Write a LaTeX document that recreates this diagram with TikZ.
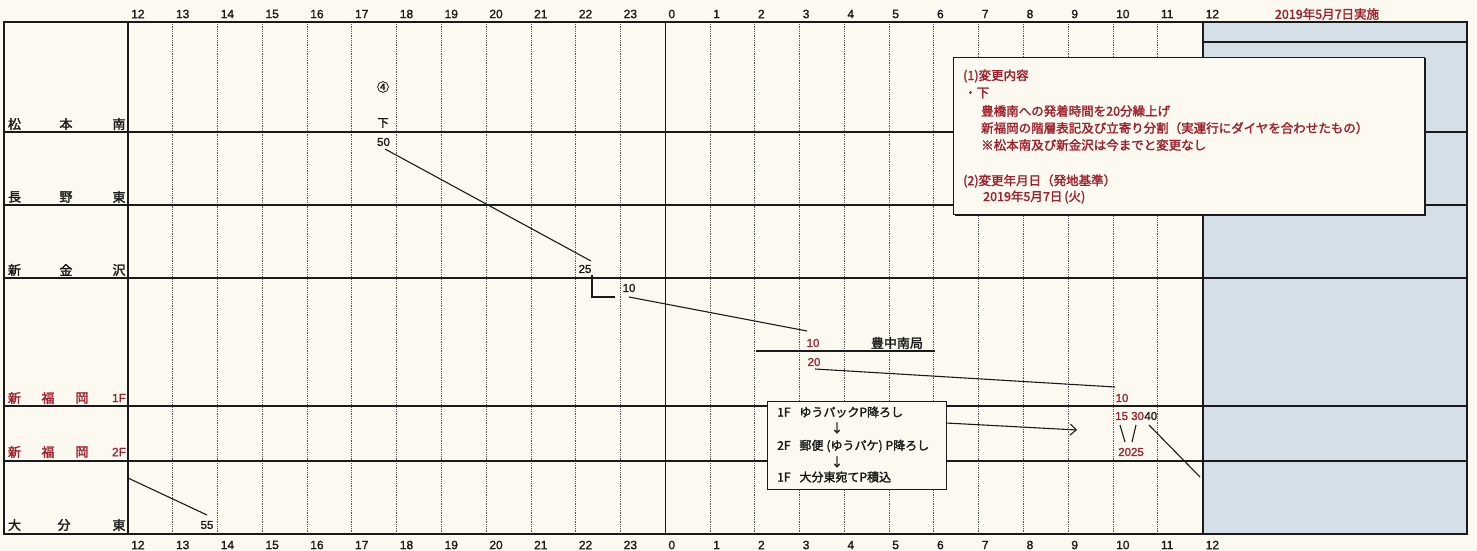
\documentclass[tikz,border=0pt]{standalone}
\usepackage{fontspec}
\setmainfont{Liberation Sans}[FakeBold=1.5]
\newfontfamily\jp{Noto Sans CJK JP}[FakeBold=2]
\usetikzlibrary{arrows.meta}
\definecolor{paper}{HTML}{FCFAF0}
\definecolor{panelblue}{HTML}{D5DFE8}
\definecolor{ink}{HTML}{1A1A1A}
\definecolor{redink}{HTML}{A0202C}
\tikzset{
 hourlbl/.style={anchor=west, inner sep=0pt, font=\fontsize{12}{12}\selectfont, text=ink},
 stalbl/.style={inner sep=0pt, font=\jp\fontsize{13}{13}\selectfont, text=ink},
 stalblred/.style={stalbl, text=redink},
 num/.style={inner sep=0pt, font=\fontsize{11.5}{11.5}\selectfont, text=ink},
 numred/.style={num, text=redink},
 note/.style={anchor=west, inner sep=0pt, font=\jp\fontsize{12.5}{12.5}\selectfont, text=redink},
 boxtxt/.style={anchor=west, inner sep=0pt, font=\jp\fontsize{12}{12}\selectfont, text=ink},
 frame/.style={line width=2.4pt, draw=ink},
 rowline/.style={line width=1.1pt, draw=ink},
 gridline/.style={line width=0.8pt, draw=ink!75, dash pattern=on 0.9pt off 0.9pt},
 run/.style={line width=1.1pt, draw=ink},
 panel/.style={draw=ink, line width=1.2pt, fill=paper, inner sep=0pt, anchor=north west},
}
\begin{document}
\begin{tikzpicture}[x=1pt,y=-1pt]
\fill[paper] (0,0) rectangle (1477,551);
\useasboundingbox (0,0) rectangle (1477,551);
\fill[panelblue] (1203,22) rectangle (1467,534);
% hour grid
\foreach \h in {1,...,11,13,14,...,23}
  \draw[gridline] ({128+\h*44.77},22) -- ({128+\h*44.77},534);
\draw[line width=1pt, ink] (665.2,22) -- (665.2,534);
% station rows
\foreach \y in {132,205,278,406,461}
  \draw[rowline] (4,\y) -- (1467,\y);
\draw[rowline] (1203,42) -- (1467,42);
\draw[rowline] (755.8,351) -- (934.9,351);
% frame
\draw[frame] (4,22) rectangle (1467,534);
\draw[line width=2pt, ink] (128,22) -- (128,534);
\draw[line width=2pt, ink] (1203,22) -- (1203,534);
% hour labels
\foreach \h in {0,...,24} {
  \pgfmathtruncatemacro\lab{mod(12+\h,24)}
  \node[hourlbl] (t\h) at ({131+\h*44.77},14) {\lab};
  \node[hourlbl] (b\h) at ({131+\h*44.77},545) {\lab};
}
\node[inner sep=0pt, font=\jp\fontsize{12.5}{12.5}\selectfont, text=redink] (date) at (1327,14) {2019年5月7日実施};
% station labels
\node[stalbl] (s1a) at (14.5,124) {松};
\node[stalbl] (s1b) at (66,124) {本};
\node[stalbl] (s1c) at (119,124) {南};
\node[stalbl] (s2a) at (14.5,197) {長};
\node[stalbl] (s2b) at (66,197) {野};
\node[stalbl] (s2c) at (119,197) {東};
\node[stalbl] (s3a) at (14.5,270) {新};
\node[stalbl] (s3b) at (66,270) {金};
\node[stalbl] (s3c) at (119,270) {沢};
\node[stalblred] (s4a) at (14.5,398) {新};
\node[stalblred] (s4b) at (48,398) {福};
\node[stalblred] (s4c) at (82,398) {岡};
\node[numred, font=\fontsize{12}{12}\selectfont] (s4d) at (119,398) {1F};
\node[stalblred] (s5a) at (14.5,452) {新};
\node[stalblred] (s5b) at (48,452) {福};
\node[stalblred] (s5c) at (82,452) {岡};
\node[numred, font=\fontsize{12}{12}\selectfont] (s5d) at (119,452) {2F};
\node[stalbl] (s6a) at (14.5,525) {大};
\node[stalbl] (s6b) at (64,525) {分};
\node[stalbl] (s6c) at (119,525) {東};
% train run
\node[inner sep=0pt, font=\jp\fontsize{12}{12}\selectfont, text=ink] (circ) at (383,87) {④};
\node[inner sep=0pt, font=\jp\fontsize{11.5}{11.5}\selectfont, text=ink] (kudari) at (383,123) {下};
\node[num] (n50) at (383.5,142) {50};
\node[num] (n25) at (585,269) {25};
\node[num] (n10a) at (629,288) {10};
\node[numred] (n10b) at (813,343) {10};
\node[inner sep=0pt, font=\jp\fontsize{13}{13}\selectfont, text=ink] (toyo) at (897,343) {豊中南局};
\node[numred] (n20) at (814,362) {20};
\node[numred] (n10c) at (1122,398) {10};
\node[numred, anchor=west] (n1530) at (1115,416) {15 30};
\node[num, anchor=west] (n40) at (n1530.east) {40};
\node[numred] (n2025) at (1131,452) {2025};
\node[num] (n55) at (207,525) {55};
\coordinate (r1a) at (385,149);
\coordinate (r1b) at (591,261);
\coordinate (r2a) at (592,275);
\coordinate (r2b) at (592,297);
\coordinate (r2c) at (615,297);
\coordinate (r3a) at (629,297);
\coordinate (r3b) at (807,331);
\coordinate (r4a) at (815,369);
\coordinate (r4b) at (1115,387);
\coordinate (k1a) at (1120,425);
\coordinate (k1b) at (1125,442);
\coordinate (k2a) at (1136,425);
\coordinate (k2b) at (1132,442);
\coordinate (r5a) at (1149,425);
\coordinate (r5b) at (1200,477);
\coordinate (r6a) at (128,478);
\coordinate (r6b) at (207,515);
\draw[run] (r1a) -- (r1b);
\draw[run] (r2a) -- (r2b) -- (r2c);
\draw[run] (r3a) -- (r3b);
\draw[run] (r4a) -- (r4b);
\draw[run] (k1a) -- (k1b);
\draw[run] (k2a) -- (k2b);
\draw[run] (r5a) -- (r5b);
\draw[run] (r6a) -- (r6b);
% process box
\node[panel, minimum width=179pt, minimum height=88pt] (proc) at (767,401) {};
\node[boxtxt] (p1) at (777,412) {1F\hspace{9pt}ゆうパックP降ろし};
\node[inner sep=0pt, font=\jp\fontsize{12}{12}\selectfont, text=ink] (p2) at (837,428) {↓};
\node[boxtxt] (p3) at (777,446) {2F\hspace{9pt}郵便\hspace{3pt}(ゆうパケ)\hspace{3pt}P降ろし};
\node[inner sep=0pt, font=\jp\fontsize{12}{12}\selectfont, text=ink] (p4) at (837,462) {↓};
\node[boxtxt] (p5) at (777,477) {1F\hspace{9pt}大分東宛てP積込};
\coordinate (a1) at (946,423);
\coordinate (a2) at (1077,430);
\draw[run, -{Straight Barb[length=6pt,width=11pt]}] (a1) -- (a2);
% info panel
\fill[ink] (954.5,58.5) rectangle (1425.5,215.5);
\node[panel, minimum width=471pt, minimum height=157pt] (info) at (953,57) {};
\node[note] (i1) at (963,76) {(1)変更内容};
\node[note] (i2) at (964,93) {・下};
\node[note] (i3) at (981,111) {豊橋南への発着時間を20分繰上げ};
\node[note] (i4) at (981,128) {新福岡の階層表記及び立寄り分割（実運行にダイヤを合わせたもの）};
\node[note] (i5) at (981,145) {※松本南及び新金沢は今までと変更なし};
\node[note] (i6) at (963,181) {(2)変更年月日（発地基準）};
\node[note] (i7) at (983,197) {2019年5月7日\hspace{2pt}(火)};
\end{tikzpicture}
\end{document}
